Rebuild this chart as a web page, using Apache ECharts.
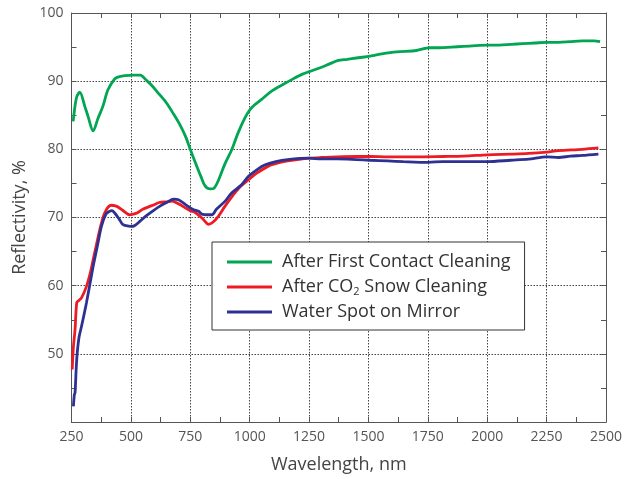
<!DOCTYPE html>
<html>
<head>
<meta charset="utf-8">
<script src="https://cdn.jsdelivr.net/npm/echarts@6/dist/echarts.min.js"></script>
<style>html,body{margin:0;padding:0;background:#fff}#c{width:625px;height:479px}</style>
</head>
<body>
<div id="c"></div>
<script>
var seriesNames = ['After First Contact Cleaning', 'After CO2 Snow Cleaning', 'Water Spot on Mirror'];
var xTicks = [250, 500, 750, 1000, 1250, 1500, 1750, 2000, 2250, 2500];
var yTicks = [40, 50, 60, 70, 80, 90, 100];

var greenX = [257,265,273,285,306,320,341,362,382,403,431,445,475,507,540,563,590,619,650,681,705,730,750,772,795,813,834,850,869,895,924,950,980,1001,1020,1049,1091,1140,1181,1220,1251,1300,1334,1370,1410,1450,1494,1556,1619,1702,1758,1800,1850,1900,1950,2001,2050,2100,2150,2200,2251,2300,2350,2400,2450,2475];
var greenY = [84.1,86.4,87.8,88.4,86.3,84.8,82.7,84.6,86.3,88.7,90.3,90.6,90.8,90.9,90.9,90.2,89.3,88.1,86.8,85.1,83.7,81.9,80.0,78.0,76.0,74.6,74.2,74.3,75.5,77.8,79.9,82.3,84.6,85.8,86.5,87.3,88.5,89.5,90.3,91.0,91.4,92.0,92.5,93.0,93.2,93.4,93.6,94.0,94.3,94.5,94.9,94.9,95.0,95.1,95.2,95.3,95.3,95.4,95.5,95.6,95.7,95.7,95.8,95.9,95.9,95.8];

var redX = [253,258,265,272,280,292,313,330,341,355,369,390,417,435,452,475,494,510,528,550,577,600,619,650,674,700,730,750,772,800,827,845,869,895,924,960,994,1030,1077,1120,1160,1200,1251,1300,1369,1450,1508,1580,1647,1700,1813,1900,2001,2100,2174,2251,2300,2400,2468];
var redY = [47.7,51.0,53.6,57.5,57.8,58.2,59.9,62.0,63.8,66.0,68.2,70.7,71.8,71.7,71.4,70.8,70.4,70.5,70.7,71.2,71.6,71.9,72.2,72.3,72.4,72.0,71.4,71.0,70.7,69.9,69.0,69.3,70.2,71.6,73.0,74.5,75.5,76.5,77.5,78.0,78.3,78.5,78.7,78.8,78.9,78.95,78.95,78.9,78.9,78.9,78.95,79.0,79.2,79.3,79.4,79.6,79.8,80.0,80.2];

var blueX = [258,262,265,270,274,282,292,313,341,360,376,395,410,420,431,450,465,480,500,515,540,563,590,619,650,681,700,730,760,785,799,820,841,860,897,924,966,994,1030,1063,1110,1160,1251,1300,1369,1450,1508,1580,1647,1751,1813,1900,2001,2100,2174,2251,2300,2350,2400,2468];
var blueY = [42.3,44.0,44.3,48.0,50.1,52.5,54.0,57.5,62.8,66.0,68.7,70.5,70.9,71.0,70.7,69.8,69.0,68.8,68.7,68.8,69.5,70.2,70.9,71.6,72.2,72.7,72.6,71.9,71.2,70.9,70.5,70.4,70.4,71.2,72.4,73.6,74.8,76.0,77.0,77.7,78.2,78.5,78.7,78.6,78.6,78.5,78.4,78.3,78.2,78.1,78.2,78.2,78.2,78.4,78.55,78.9,78.8,79.0,79.1,79.3];

function zip(xs, ys) { return xs.map(function (x, i) { return [x, ys[i]]; }); }

var FONT = 'Open Sans';
var AX = '#555';
var chart = echarts.init(document.getElementById('c'), null, {renderer: 'canvas'});

var xMin = xTicks[0], xMax = xTicks[xTicks.length - 1], xInt = xTicks[1] - xTicks[0];
var yMin = yTicks[0], yMax = yTicks[yTicks.length - 1], yInt = yTicks[1] - yTicks[0];

function baseX(pos, labels) {
  return {
    type: 'value', position: pos, min: xMin, max: xMax, interval: xInt,
    axisLine: {show: true, onZero: false, lineStyle: {color: AX, width: 1}},
    axisTick: {show: true, inside: true, length: 5, lineStyle: {color: AX}},
    minorTick: {show: true, splitNumber: 2, length: 5, lineStyle: {color: AX}},
    axisLabel: {show: labels, color: '#555', fontFamily: FONT, fontSize: 14, margin: 8,
      formatter: function (v) { return String(v); }},
    splitLine: {show: labels, lineStyle: {type: [1.5, 1.5], color: '#444', width: 1}}
  };
}
function baseY(pos, labels) {
  return {
    type: 'value', position: pos, min: yMin, max: yMax, interval: yInt,
    axisLine: {show: true, onZero: false, lineStyle: {color: AX, width: 1}},
    axisTick: {show: true, inside: true, length: 5, lineStyle: {color: AX}},
    minorTick: {show: true, splitNumber: 2, length: 5, lineStyle: {color: AX}},
    axisLabel: {show: labels, color: '#555', fontFamily: FONT, fontSize: 14, margin: 8,
      formatter: function (v) { return v === yMin ? '' : String(v); }},
    splitLine: {show: labels, lineStyle: {type: [1.5, 1.5], color: '#444', width: 1}}
  };
}

var xBottom = baseX('bottom', true);
xBottom.name = 'Wavelength, nm';
xBottom.nameLocation = 'middle';
xBottom.nameGap = 34;
xBottom.nameTextStyle = {fontFamily: FONT, fontSize: 18, color: '#444'};
var yLeft = baseY('left', true);
yLeft.name = 'Reflectivity, %';
yLeft.nameLocation = 'middle';
yLeft.nameGap = 40;
yLeft.nameTextStyle = {fontFamily: FONT, fontSize: 18, color: '#444'};

var colors = ['#00a651', '#ed1c24', '#2e3192'];
var datas = [zip(greenX, greenY), zip(redX, redY), zip(blueX, blueY)];

chart.setOption({
  animation: false,
  grid: {left: 71.5, right: 13.5, top: 13, bottom: 56.5, containLabel: false},
  xAxis: [xBottom, baseX('top', false)],
  yAxis: [yLeft, baseY('right', false)],
  legend: {
    data: seriesNames,
    orient: 'vertical',
    left: 212, top: 242,
    padding: [10, 14, 8, 15],
    itemGap: 5,
    itemWidth: 45, itemHeight: 3,
    icon: 'rect',
    borderColor: '#333', borderWidth: 1,
    backgroundColor: '#fff',
    textStyle: {
      fontFamily: FONT, fontSize: 18, lineHeight: 20, color: '#333', padding: [0, 0, 0, 5],
      rich: {
        t: {fontFamily: FONT, fontSize: 18, lineHeight: 20, color: '#333'},
        sub: {fontFamily: FONT, fontSize: 11, lineHeight: 20, color: '#333', padding: [9, 0, 0, 0]}
      }
    },
    formatter: function (name) {
      if (name.indexOf('CO2') >= 0) {
        var parts = name.split('CO2');
        return '{t|' + parts[0] + 'CO}{sub|2}{t|' + parts[1] + '}';
      }
      return name;
    }
  },
  series: seriesNames.map(function (n, i) {
    return {
      name: n, type: 'line', data: datas[i], symbol: 'none', smooth: 0.3,
      xAxisIndex: 0, yAxisIndex: 0,
      lineStyle: {color: colors[i], width: 2.8},
      itemStyle: {color: colors[i]},
      z: 2 + i
    };
  })
});
</script>
</body>
</html>
